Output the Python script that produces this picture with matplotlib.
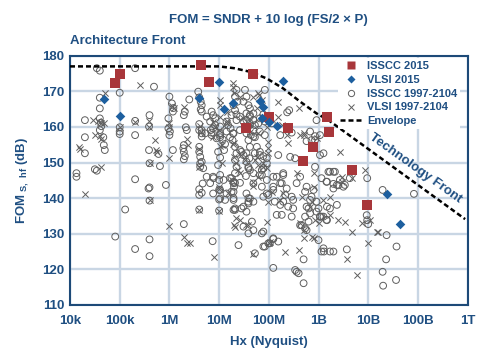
import matplotlib
matplotlib.use("Agg")
import matplotlib.pyplot as plt
from matplotlib.lines import Line2D
import numpy as np

plt.rcParams.update({
    "font.family": ["Liberation Sans", "DejaVu Sans"],
    "font.weight": "bold",
    "font.size": 9.5,
})

BLUE_TXT = "#1f4f82"
GRID_C = "#c9d6e4"
RED = "#a8363a"
DIAMOND = "#1d5f9f"
GREY = "#5e5e5e"

# (log10 Hz, FOM dB)
ISSCC_2015 = [(4.905, 172.4), (5.0, 174.9), (6.64, 177.4), (6.80, 172.6), (7.69, 175.0),
              (7.535, 159.6), (8.0, 162.7), (8.39, 159.8), (9.18, 162.7), (9.21, 158.7),
              (8.895, 154.3), (8.68, 150.5), (9.68, 147.9), (9.97, 138.2)]

VLSI_2015 = [(4.69, 167.8), (5.0, 163.1), (6.60, 168.0), (7.0, 172.6), (7.10, 165.0),
             (7.27, 166.6), (7.82, 167.3), (7.89, 165.5), (7.87, 162.4), (8.0, 161.3),
             (8.17, 160.3), (8.29, 172.9), (10.37, 141.2), (10.64, 132.7)]

ISSCC_OLD = [
    (4.13, 147.0), (4.13, 146.0), (4.30, 157.1), (4.30, 152.6), (4.30, 161.9),
    (4.50, 148.1), (4.54, 147.7), (4.60, 162.4), (4.62, 161.2), (4.63, 160.2),
    (4.60, 159.1), (4.67, 157.1), (4.68, 154.9), (4.70, 153.5), (4.60, 168.2),
    (4.60, 165.2), (4.54, 176.5), (4.60, 175.8), (5.0, 169.6), (5.0, 159.9),
    (5.0, 158.7), (5.0, 158.0), (5.31, 176.5), (5.69, 171.3), (5.31, 161.7),
    (5.31, 157.7), (5.31, 145.3), (5.11, 136.8), (4.91, 129.2), (5.31, 125.7),
    (5.59, 160.1), (5.60, 163.3), (5.59, 153.5), (5.78, 152.4), (5.60, 149.8),
    (5.81, 149.0), (5.60, 143.0), (5.93, 143.7), (6.0, 168.5), (6.05, 166.6),
    (6.08, 165.3), (6.07, 164.3), (5.98, 162.4), (5.98, 159.6), (6.01, 158.7),
    (6.0, 157.7), (6.07, 153.5), (5.6, 139.3), (5.6, 128.4), (5.6, 123.7),
    (5.58, 142.7), (6.31, 164.3), (6.29, 163.3), (6.33, 159.9), (6.35, 159.1),
    (6.29, 154.9), (6.28, 154.0), (6.29, 153.0), (6.31, 151.8), (6.29, 150.9),
    (6.40, 167.7), (6.29, 132.7), (6.58, 169.9), (6.60, 168.3), (6.63, 167.1),
    (6.65, 166.1), (6.63, 164.9), (6.65, 164.3), (6.60, 160.8), (6.60, 159.1),
    (6.65, 158.2), (6.65, 157.3), (6.60, 154.4), (6.60, 153.0), (6.62, 151.6),
    (6.65, 150.2), (6.62, 148.8), (6.67, 144.1), (6.65, 141.5), (6.60, 142.5),
    (6.60, 140.9), (6.60, 136.8), (6.85, 164.3), (6.88, 163.3), (6.92, 162.4),
    (6.92, 160.5), (6.83, 159.1), (6.85, 158.4), (7.02, 160.1), (7.02, 158.2),
    (7.02, 157.1), (6.98, 153.0), (7.02, 151.4), (6.98, 149.3), (6.89, 145.6),
    (7.07, 156.5), (7.12, 155.2), (7.10, 153.5), (6.87, 127.9), (7.0, 145.1),
    (7.0, 142.3), (7.0, 139.6), (7.0, 136.5), (7.15, 161.5), (7.18, 160.5),
    (7.23, 159.6), (7.28, 158.2), (7.22, 157.1), (7.32, 168.5), (7.37, 167.1),
    (7.29, 166.1), (7.32, 164.7), (7.27, 156.3), (7.32, 154.4), (7.35, 152.6),
    (7.32, 150.7), (7.35, 148.8), (7.32, 147.0), (7.25, 145.6), (7.32, 144.3),
    (7.52, 170.4), (7.55, 168.5), (7.49, 167.1), (7.59, 166.1), (7.62, 165.2),
    (7.55, 163.8), (7.62, 162.9), (7.69, 161.9), (7.62, 160.5), (7.69, 159.1),
    (7.64, 157.7), (7.72, 157.1), (7.42, 153.5), (7.49, 152.1), (7.55, 150.2),
    (7.59, 148.8), (7.54, 146.2), (7.42, 144.3), (7.69, 144.1), (7.55, 141.3),
    (7.76, 154.4), (7.82, 153.0), (7.89, 151.8), (7.96, 149.8), (7.89, 148.4),
    (7.82, 146.5), (7.96, 145.1), (7.86, 143.2), (7.96, 141.3), (7.15, 141.3),
    (7.29, 144.6), (7.30, 143.2), (7.29, 141.8), (7.29, 140.0), (7.32, 136.7),
    (7.45, 137.1), (7.39, 126.8), (7.59, 140.0), (7.59, 138.5), (7.69, 139.0),
    (7.59, 130.1), (7.86, 130.1), (7.89, 126.4), (7.35, 170.4), (7.92, 170.4),
    (8.41, 164.7), (8.37, 164.1), (7.25, 163.3), (7.35, 163.5), (7.42, 162.9),
    (7.35, 161.9), (7.49, 161.5), (7.55, 161.9), (7.62, 163.3), (7.69, 163.8),
    (7.62, 161.0), (7.72, 160.5), (7.79, 161.0), (7.82, 162.4), (7.89, 163.5),
    (7.92, 161.5), (7.99, 162.4), (8.06, 161.0), (7.82, 158.7), (7.92, 157.7),
    (7.69, 157.3), (7.55, 158.2), (7.42, 159.1), (7.29, 158.2), (7.15, 158.7),
    (7.02, 157.7), (6.95, 156.8), (6.85, 157.7), (6.72, 158.2), (6.65, 159.1),
    (6.75, 162.9), (6.82, 161.5), (6.88, 159.6), (8.96, 161.9), (8.83, 158.7),
    (8.76, 156.0), (8.93, 156.3), (9.03, 157.7), (7.45, 153.0), (7.55, 152.6),
    (7.61, 151.2), (7.62, 154.4), (7.59, 156.3), (7.72, 152.6), (7.82, 152.1),
    (7.96, 151.2), (7.86, 147.9), (7.69, 147.0), (7.59, 148.4), (8.19, 152.1),
    (8.43, 151.6), (8.53, 151.2), (6.62, 149.8), (6.68, 148.4), (6.75, 146.0),
    (6.82, 144.2), (6.88, 146.0), (7.02, 146.5), (7.09, 145.1), (7.22, 145.6),
    (7.29, 144.2), (7.25, 141.8), (7.02, 142.3), (6.88, 141.3), (7.02, 139.9),
    (7.12, 139.5), (7.29, 139.5), (7.32, 137.1), (7.49, 137.6), (7.59, 139.0),
    (7.62, 139.9), (7.89, 140.4), (7.99, 140.9), (8.09, 143.2), (8.16, 146.0),
    (8.29, 146.5), (8.23, 144.2), (8.36, 142.7), (8.46, 140.4), (8.29, 139.0),
    (8.12, 139.0), (8.23, 138.1), (8.39, 137.6), (8.56, 144.2), (8.63, 146.0),
    (8.76, 143.2), (8.90, 142.3), (8.86, 140.4), (8.96, 139.0), (8.76, 137.6),
    (8.96, 136.2), (9.17, 137.6), (9.03, 134.8), (7.29, 136.7), (7.55, 136.2),
    (7.49, 132.0), (7.66, 133.4), (8.26, 135.3), (8.73, 134.8), (8.80, 133.4),
    (8.09, 120.4), (8.70, 122.8), (8.53, 119.8), (8.60, 118.9), (8.70, 116.1),
    (8.63, 132.4), (8.76, 131.0), (9.0, 128.2), (9.10, 125.9), (9.11, 125.0),
    (7.99, 127.3), (8.09, 128.5), (8.19, 127.8), (8.46, 158.4), (8.23, 157.7),
    (8.86, 156.3), (8.90, 154.4), (9.03, 152.1), (8.93, 148.8), (9.06, 145.6),
    (9.20, 147.4), (9.33, 147.4), (9.37, 143.7), (9.53, 143.7), (9.17, 144.6),
    (9.30, 142.7), (9.63, 145.6), (9.43, 145.1), (9.98, 145.6), (10.29, 142.3),
    (10.92, 141.2), (9.97, 135.2), (9.98, 133.8), (10.0, 132.7), (10.37, 129.6),
    (10.57, 126.4), (10.36, 122.8), (10.29, 119.3), (10.56, 117.0), (10.30, 115.4),
    (9.57, 125.6), (9.23, 125.0), (9.06, 125.0), (8.56, 119.3), (9.17, 133.8),
    (9.10, 134.8), (9.37, 138.1), (8.83, 135.7), (8.66, 132.4), (8.73, 131.5),
    (8.46, 134.8), (8.16, 135.3), (7.89, 130.6), (8.09, 128.7), (8.02, 127.3),
    (7.92, 126.4), (7.72, 124.5), (7.69, 131.0), (7.62, 147.9), (7.86, 146.5),
    (8.09, 146.0), (8.29, 147.0), (8.26, 144.2), (8.09, 142.3), (8.33, 140.9),
    (8.49, 139.5), (8.73, 141.8), (8.83, 139.5), (8.80, 137.1), (9.0, 137.1),
    (9.06, 134.8), (9.23, 137.1), (8.49, 137.1), (9.10, 152.6), (9.23, 147.4),
    (9.30, 147.4), (9.16, 144.6), (9.30, 144.0), (9.40, 143.6), (9.50, 143.2),
    (9.03, 134.8), (9.16, 133.9), (9.30, 125.0), (8.93, 157.4),
]

VLSI_OLD = [
    (4.19, 154.4), (4.21, 153.7), (4.30, 141.2), (4.47, 161.9), (4.50, 157.7),
    (4.62, 148.6), (4.57, 161.7), (4.63, 161.0), (4.68, 161.2), (4.60, 157.4),
    (4.63, 156.5), (4.70, 169.6), (5.0, 160.0), (5.41, 171.8), (5.31, 161.4),
    (5.59, 161.7), (5.59, 160.1), (5.71, 156.3), (5.74, 153.5), (5.76, 153.0),
    (5.60, 150.0), (6.0, 151.2), (6.05, 165.9), (6.09, 165.2), (6.0, 161.0),
    (6.0, 159.9), (5.6, 139.5), (6.0, 132.2), (6.35, 156.5), (6.38, 154.9),
    (6.29, 165.7), (6.29, 129.0), (6.35, 127.3), (6.41, 127.3), (6.62, 160.3),
    (6.63, 158.7), (6.60, 153.9), (6.60, 148.6), (6.60, 136.8), (6.88, 161.5),
    (6.92, 160.1), (6.87, 157.1), (7.02, 167.5), (7.02, 166.1), (7.0, 159.1),
    (7.02, 154.6), (7.05, 149.8), (7.0, 143.2), (7.0, 136.5), (6.90, 123.5),
    (7.15, 164.3), (7.15, 161.7), (7.27, 172.2), (7.27, 171.1), (7.29, 169.4),
    (7.42, 168.5), (7.27, 155.2), (7.30, 151.6), (7.35, 149.8), (7.39, 147.9),
    (7.69, 168.5), (7.79, 169.4), (7.86, 167.6), (7.76, 165.2), (7.86, 162.9),
    (7.76, 151.6), (7.88, 149.8), (7.96, 148.4), (7.79, 146.0), (7.30, 132.4),
    (7.33, 134.3), (7.69, 143.4), (7.69, 124.3), (7.96, 133.4), (8.01, 127.3),
    (7.59, 132.4), (7.18, 141.3), (7.80, 169.0), (8.19, 167.1), (8.60, 165.2),
    (8.70, 157.7), (7.02, 162.9), (7.15, 161.0), (7.49, 162.4), (7.62, 158.7),
    (7.79, 158.2), (7.96, 160.1), (8.19, 162.9), (8.26, 160.5), (8.36, 157.7),
    (8.63, 157.7), (7.05, 154.9), (7.29, 155.4), (7.45, 152.1), (7.52, 150.7),
    (7.72, 150.7), (7.79, 149.3), (7.89, 148.8), (7.99, 155.9), (7.99, 154.0),
    (7.99, 152.6), (8.39, 155.4), (6.99, 142.7), (7.25, 145.1), (7.42, 147.0),
    (7.69, 144.6), (7.99, 139.0), (8.06, 141.8), (8.23, 139.5), (8.56, 147.0),
    (8.66, 140.4), (8.83, 137.6), (8.93, 133.8), (9.10, 139.5), (9.0, 132.9),
    (7.42, 133.8), (7.55, 132.4), (8.63, 132.9), (7.32, 132.0), (8.33, 124.8),
    (8.60, 125.4), (8.70, 128.7), (8.90, 128.9), (8.96, 156.8), (9.43, 153.0),
    (9.94, 147.9), (8.90, 147.0), (8.90, 143.2), (9.23, 135.3), (9.40, 133.9),
    (9.53, 133.4), (9.67, 130.6), (9.87, 132.9), (10.04, 133.8), (10.17, 130.6),
    (10.0, 127.3), (9.77, 118.4), (8.29, 141.5), (8.86, 139.0), (8.70, 131.0),
    (8.86, 129.2), (8.02, 127.8), (9.70, 147.9), (9.67, 145.6), (9.47, 146.0),
    (9.47, 144.6), (9.23, 140.4), (10.20, 130.6), (9.58, 122.8), (8.71, 158.2),
]

ENVELOPE = [(4.0, 177.0), (7.0, 177.0), (7.3, 176.5), (7.62, 175.5), (7.96, 173.6),
            (8.29, 170.8), (8.63, 167.1), (8.96, 163.8), (9.2, 161.9), (11.95, 134.1)]

X_TICKS = [4, 5, 6, 7, 8, 9, 10, 11, 12]
X_TICKLABELS = ["10k", "100k", "1M", "10M", "100M", "1B", "10B", "100B", "1T"]
Y_TICKS = [110, 120, 130, 140, 150, 160, 170, 180]


def split(pts):
    a = np.array(pts, dtype=float)
    return 10 ** a[:, 0], a[:, 1]


fig = plt.figure(figsize=(5.0, 3.56), dpi=100)
ax = fig.add_axes([0.14, 0.1435, 0.7952, 0.7])

x, y = split(ISSCC_OLD)
ax.scatter(x, y, s=24, marker="o", facecolors="none", edgecolors=GREY,
           linewidths=0.7, zorder=3)
x, y = split(VLSI_OLD)
ax.scatter(x, y, s=20, marker="x", color=GREY, linewidths=0.7, zorder=3)

x, y = split(ENVELOPE)
ax.plot(x, y, color="black", lw=1.8, linestyle=(0, (2.0, 1.2)), zorder=4)

x, y = split(ISSCC_2015)
ax.scatter(x, y, s=50, marker="s", color=RED, linewidths=0, zorder=5)
x, y = split(VLSI_2015)
ax.scatter(x, y, s=24, marker="D", color=DIAMOND, linewidths=0, zorder=5)

ax.set_xscale("log")
ax.set_xlim(1e4, 1e12)
ax.set_ylim(110, 180)
ax.set_xticks([10.0 ** k for k in X_TICKS])
ax.set_xticklabels(X_TICKLABELS)
ax.minorticks_off()
ax.set_yticks(Y_TICKS)
ax.grid(True, color=GRID_C, lw=1.7)
ax.set_axisbelow(True)
ax.tick_params(length=0, colors=BLUE_TXT, labelsize=9.5)
ax.tick_params(axis="x", pad=7)
ax.tick_params(axis="y", pad=4)
for lab in ax.get_xticklabels() + ax.get_yticklabels():
    lab.set_fontweight("bold")
for sp in ax.spines.values():
    sp.set_color("#1d4a78")
    sp.set_linewidth(1.5)

ax.set_xlabel("Hx (Nyquist)", color=BLUE_TXT, fontsize=9.5, fontweight="bold", labelpad=7)
ax.set_ylabel(r"FOM$_{\mathregular{\ S,\ hf}}$ (dB)", color=BLUE_TXT, fontsize=9.5,
              fontweight="bold", labelpad=8)

ax.text(10 ** 10.96, 148.4, "Technology Front", rotation=-35.6, rotation_mode="anchor",
        ha="center", va="center", color=BLUE_TXT, fontsize=9.5, fontweight="bold", zorder=8)

fig.text(0.536, 0.944, "FOM = SNDR + 10 log (FS/2 \u00d7 P)", ha="center", va="center",
         color=BLUE_TXT, fontsize=9.5, fontweight="bold")
fig.text(0.14, 0.884, "Architecture Front", ha="left", va="center",
         color=BLUE_TXT, fontsize=9.5, fontweight="bold")

handles = [
    Line2D([], [], ls="none", marker="s", ms=6, color=RED, mec="none"),
    Line2D([], [], ls="none", marker="D", ms=4, color=DIAMOND, mec="none"),
    Line2D([], [], ls="none", marker="o", ms=4.5, mfc="none", mec=GREY, mew=0.7),
    Line2D([], [], ls="none", marker="x", ms=4.5, color=GREY, mew=0.7),
    Line2D([], [], color="black", lw=1.8, ls=(0, (2.0, 1.2))),
]
labels = ["ISSCC 2015", "VLSI 2015", "ISSCC 1997-2104", "VLSI 1997-2104", "Envelope"]
leg = ax.legend(handles, labels, loc="upper right", bbox_to_anchor=(0.995, 1.012),
                frameon=True, facecolor="white", edgecolor="none", framealpha=1,
                fancybox=False, fontsize=8, labelspacing=0.34, handlelength=1.9,
                handletextpad=0.5, borderpad=0.25)
leg.set_zorder(7)
for t in leg.get_texts():
    t.set_color(BLUE_TXT)
    t.set_fontweight("bold")

fig.savefig("out.png", dpi=100)
